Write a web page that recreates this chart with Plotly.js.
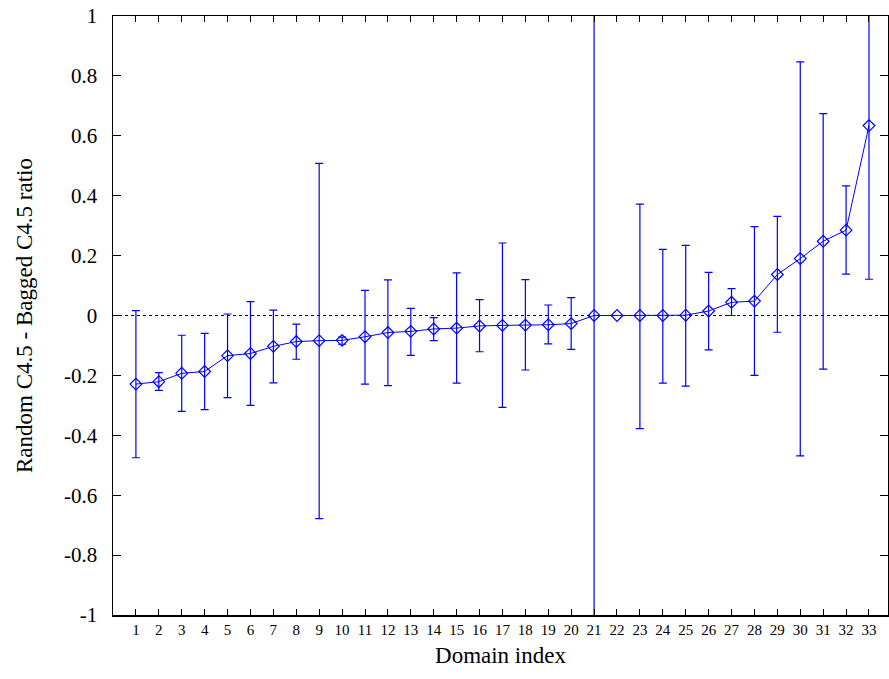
<!DOCTYPE html>
<html>
<head>
<meta charset="utf-8">
<script src="https://cdn.plot.ly/plotly-3.0.1.min.js"></script>
<style>html,body{margin:0;padding:0;background:#fff;}#chart{width:889px;height:679px;}</style>
</head>
<body>
<div id="chart"></div>
<script>
const domainIndex = [1,2,3,4,5,6,7,8,9,10,11,12,13,14,15,16,17,18,19,20,21,22,23,24,25,26,27,28,29,30,31,32,33];
const meanRatio = [-0.229,-0.221,-0.193,-0.187,-0.134,-0.127,-0.103,-0.087,-0.084,-0.083,-0.071,-0.057,-0.053,-0.045,-0.042,-0.035,-0.033,-0.032,-0.031,-0.027,0.0,0.0,0.0,0.0,0.001,0.015,0.044,0.048,0.137,0.19,0.248,0.285,0.634];
const upperBound = [0.016,-0.191,-0.066,-0.06,0.005,0.046,0.018,-0.029,0.508,-0.072,0.084,0.119,0.024,-0.007,0.142,0.053,0.242,0.12,0.035,0.06,1.2,0.0,0.372,0.221,0.234,0.144,0.09,0.297,0.331,0.847,0.674,0.433,1.1];
const lowerBound = [-0.475,-0.25,-0.32,-0.314,-0.274,-0.30,-0.225,-0.146,-0.678,-0.096,-0.229,-0.234,-0.133,-0.084,-0.226,-0.121,-0.307,-0.182,-0.095,-0.113,-1.2,0.0,-0.378,-0.226,-0.236,-0.115,0.0,-0.2,-0.056,-0.469,-0.179,0.138,0.121];
const yTickVals = [-1,-0.8,-0.6,-0.4,-0.2,0,0.2,0.4,0.6,0.8,1];
const yTickText = ["-1","-0.8","-0.6","-0.4","-0.2","0","0.2","0.4","0.6","0.8","1"];

const plus = upperBound.map((u,i)=>Math.max(0,u-meanRatio[i]));
const minus = lowerBound.map((l,i)=>Math.max(0,meanRatio[i]-l));

const trace = {
  x: domainIndex, y: meanRatio, type: 'scatter', mode: 'lines+markers',
  line: {color: '#0000ff', width: 1},
  marker: {symbol: 'diamond-open', size: 9, color: '#0000ff', line: {width: 1.2, color: '#0000ff'}},
  error_y: {type: 'data', symmetric: false, array: plus, arrayminus: minus, color: '#0000ff', thickness: 1.2, width: 4},
  cliponaxis: true, showlegend: false
};

const fontFam = 'Liberation Serif';
const layout = {
  width: 889, height: 679,
  margin: {l: 113, r: 1, t: 16, b: 64},
  paper_bgcolor: '#fff', plot_bgcolor: '#fff',
  font: {family: fontFam, color: '#000'},
  showlegend: false,
  xaxis: {
    range: [0, 33.83], tickvals: domainIndex, ticktext: domainIndex.map(String),
    ticks: 'inside', ticklen: 6, tickwidth: 1, tickcolor: '#000',
    showline: true, linecolor: '#000', linewidth: 1.5, mirror: 'allticks',
    showgrid: false, zeroline: false,
    tickfont: {family: fontFam, size: 15, color: '#000'},
    title: {text: 'Domain index', font: {family: fontFam, size: 23, color: '#000'}, standoff: 10}
  },
  yaxis: {
    range: [-1, 1], tickvals: yTickVals, ticktext: yTickText,
    ticks: 'inside', ticklen: 8, tickwidth: 1, tickcolor: '#000',
    showline: true, linecolor: '#000', linewidth: 1.5, mirror: 'allticks',
    showgrid: false, zeroline: false,
    tickfont: {family: fontFam, size: 21, color: '#000'},
    ticklabelstandoff: 10,
    title: {text: 'Random C4.5 - Bagged C4.5 ratio', font: {family: fontFam, size: 23, color: '#000'}, standoff: 25}
  },
  shapes: [{type: 'line', xref: 'paper', x0: 0, x1: 1, yref: 'y', y0: 0, y1: 0, line: {color: '#000', width: 1, dash: 'dot'}, layer: 'below'}]
};

Plotly.newPlot('chart', [trace], layout, {staticPlot: true, displayModeBar: false});
</script>
</body>
</html>
